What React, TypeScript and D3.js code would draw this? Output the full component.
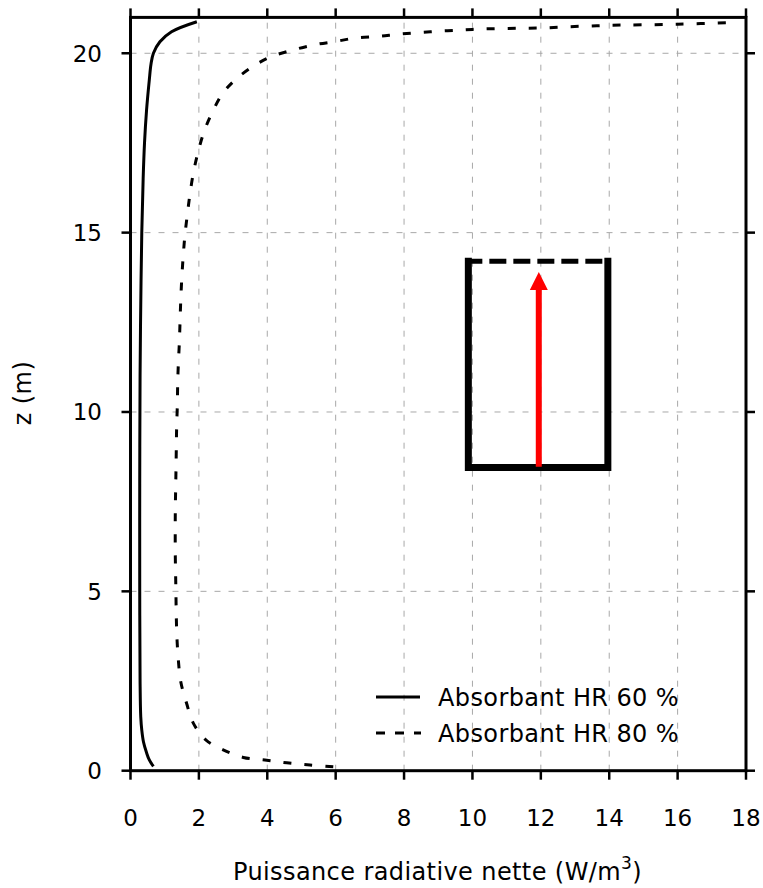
import React from "react";
import * as d3 from "d3";

// HR 60 % curve: power (W/m3) vs height z (m)
const hr60Power = [0.67, 0.55, 0.47, 0.38, 0.33, 0.3, 0.28, 0.27, 0.27, 0.28, 0.3, 0.33, 0.37, 0.41, 0.47, 0.55, 0.6, 0.67, 0.86, 1.2, 1.94];
const hr60Z = [0.12, 0.3, 0.5, 0.8, 1.13, 1.5, 2.5, 5, 8, 11, 13, 15, 16.5, 17.5, 18.42, 19.26, 19.7, 20.0, 20.32, 20.6, 20.88];

// HR 80 % curve
const hr80Power = [
  5.93, 5.25, 4.57, 3.93, 3.3, 2.71, 2.21, 1.84, 1.64, 1.47, 1.4, 1.36, 1.34, 1.33, 1.32, 1.31, 1.31,
  1.32, 1.33, 1.34, 1.35, 1.37, 1.38, 1.4, 1.43, 1.45, 1.47, 1.5, 1.54, 1.59, 1.66, 1.74, 1.84, 1.98,
  2.15, 2.4, 2.71, 3.11, 3.64, 4.13, 4.75, 5.4, 6.0, 6.61, 7.25, 7.83, 8.46, 9.1, 9.73, 10.3, 10.95,
  11.58, 12.17, 12.8, 13.44, 14.07, 16.0, 17.7,
];
const hr80Z = [
  0.11, 0.16, 0.22, 0.3, 0.37, 0.58, 0.85, 1.32, 1.88, 2.48, 3.08, 3.67, 4.26, 4.85, 5.45, 6.0, 7.2,
  7.82, 8.37, 9.0, 9.6, 10.2, 10.8, 11.36, 11.96, 12.56, 13.12, 13.73, 14.33, 14.91, 15.49, 16.08,
  16.67, 17.26, 17.81, 18.37, 18.9, 19.3, 19.67, 19.91, 20.09, 20.24, 20.33, 20.43, 20.47, 20.53,
  20.58, 20.62, 20.65, 20.68, 20.69, 20.7, 20.71, 20.74, 20.76, 20.78, 20.81, 20.86,
];

const xTicks = [0, 2, 4, 6, 8, 10, 12, 14, 16, 18];
const yTicks = [0, 5, 10, 15, 20];
const legendLabels = ["Absorbant HR 60 %", "Absorbant HR 80 %"];

// control volume sketch (in data units) and the flux arrow
const boxX = [9.88, 13.96];
const boxZ = [8.45, 14.2];
const arrowX = 11.94;
const arrowZ = [8.47, 13.9];

const FONT = "DejaVu Sans, Verdana, sans-serif";

export default function App() {
  const width = 763;
  const height = 888;
  const x = d3.scaleLinear().domain([0, 18]).range([130.5, 746]);
  const y = d3.scaleLinear().domain([0, 21]).range([770.7, 17.4]);
  const [x0, x1] = x.range();
  const [y0, y1] = y.range();

  const line = d3
    .line<[number, number]>()
    .x((d) => x(d[0]))
    .y((d) => y(d[1]))
    .curve(d3.curveCatmullRom.alpha(0.5));

  const hr60 = hr60Power.map((p, i) => [p, hr60Z[i]] as [number, number]);
  const hr80 = hr80Power.map((p, i) => [p, hr80Z[i]] as [number, number]);

  const tick = 9;
  const bl = x(boxX[0]);
  const br = x(boxX[1]);
  const bt = y(boxZ[1]);
  const bb = y(boxZ[0]);
  const ax = x(arrowX);
  const aTip = y(arrowZ[1]);
  const aBase = y(arrowZ[0]);
  const head = 18;

  return (
    <div style={{ position: "absolute", left: 0, top: 0 }}>
      <svg width={width} height={height} style={{ display: "block", background: "#fff" }}>
        {/* grid */}
        <g stroke="#a8a8a8" strokeWidth={1} strokeDasharray="6,8">
          {xTicks.slice(1, -1).map((t) => (
            <line key={`gx${t}`} x1={x(t)} x2={x(t)} y1={y0} y2={y1} />
          ))}
          {yTicks.slice(1).map((t) => (
            <line key={`gy${t}`} x1={x0} x2={x1} y1={y(t)} y2={y(t)} />
          ))}
        </g>

        {/* curves */}
        <path d={line(hr60) ?? ""} fill="none" stroke="#000" strokeWidth={3} />
        <path d={line(hr80) ?? ""} fill="none" stroke="#000" strokeWidth={3} strokeDasharray="8,13" />

        {/* control volume */}
        <path
          d={`M${bl},${bt} L${bl},${bb} L${br},${bb} L${br},${bt}`}
          fill="none"
          stroke="#000"
          strokeWidth={7}
          strokeLinejoin="miter"
          strokeLinecap="square"
        />
        <line x1={bl - 3} x2={br + 3} y1={bt} y2={bt} stroke="#000" strokeWidth={5} strokeDasharray="17,7" />
        <line x1={ax} x2={ax} y1={aBase} y2={aTip + head - 1} stroke="#ff0000" strokeWidth={6} />
        <path
          d={`M${ax},${aTip} L${ax - head / 2},${aTip + head} L${ax + head / 2},${aTip + head} Z`}
          fill="#ff0000"
        />

        {/* frame and ticks */}
        <g stroke="#000" strokeWidth={2.5}>
          {xTicks.map((t) => (
            <g key={`tx${t}`}>
              <line x1={x(t)} x2={x(t)} y1={y0} y2={y0 + tick} />
              <line x1={x(t)} x2={x(t)} y1={y1} y2={y1 - tick} />
            </g>
          ))}
          {yTicks.map((t) => (
            <g key={`ty${t}`}>
              <line x1={x0} x2={x0 - tick} y1={y(t)} y2={y(t)} />
              <line x1={x1} x2={x1 + tick} y1={y(t)} y2={y(t)} />
            </g>
          ))}
        </g>
        <rect x={x0} y={y1} width={x1 - x0} height={y0 - y1} fill="none" stroke="#000" strokeWidth={3} />

        {/* tick labels */}
        <g fontFamily={FONT} fontSize={23} fill="#000">
          {xTicks.map((t) => (
            <text key={`lx${t}`} x={x(t)} y={825.5} textAnchor="middle">
              {t}
            </text>
          ))}
          {yTicks.map((t) => (
            <text key={`ly${t}`} x={102} y={y(t)} dy="0.36em" textAnchor="end">
              {t}
            </text>
          ))}
        </g>

        {/* axis titles */}
        <text x={437.5} y={880} textAnchor="middle" fontFamily={FONT} fontSize={24} letterSpacing={0.4}>
          Puissance radiative nette (W/m
          <tspan fontSize={17} dy={-11}>3</tspan>
          <tspan dy={11}>)</tspan>
        </text>
        <text
          transform="translate(31,393) rotate(-90)"
          textAnchor="middle"
          fontFamily={FONT}
          fontSize={24}
          letterSpacing={0.4}
        >
          z (m)
        </text>

        {/* legend */}
        <g fontFamily={FONT} fontSize={24} letterSpacing={0.4}>
          <line x1={376} x2={420} y1={697} y2={697} stroke="#000" strokeWidth={3} />
          <text x={438} y={705.5}>{legendLabels[0]}</text>
          <line x1={376} x2={421} y1={733} y2={733} stroke="#000" strokeWidth={3} strokeDasharray="9,10" />
          <text x={438} y={742}>{legendLabels[1]}</text>
        </g>
      </svg>
    </div>
  );
}
